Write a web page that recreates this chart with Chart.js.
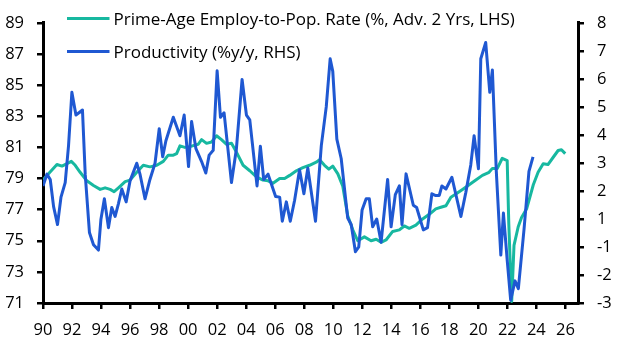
<!DOCTYPE html>
<html>
<head>
<meta charset="utf-8">
<script src="https://cdn.jsdelivr.net/npm/chart.js@4"></script>
<style>
  html, body { margin: 0; padding: 0; background: #fff; }
  #wrap { width: 629px; height: 355px; position: relative; }
</style>
</head>
<body>
<div id="wrap"><canvas id="c" width="629" height="355"></canvas></div>
<script>
// ---- Data ----
const xTickYears = [1990,1992,1994,1996,1998,2000,2002,2004,2006,2008,2010,2012,2014,2016,2018,2020,2022,2024,2026];
const xTickLabels = ['90','92','94','96','98','00','02','04','06','08','10','12','14','16','18','20','22','24','26'];
const leftTickValues = [71,73,75,77,79,81,83,85,87,89];
const rightTickValues = [-2,-1,0,1,2,3,4,5,6,7,8];
const rightTickLabels = ['-3','-2','-1','1','2','3','4','5','6','7','8'];

const seriesNames = ['Prime-Age Employ-to-Pop. Rate (%, Adv. 2 Yrs, LHS)', 'Productivity (%y/y, RHS)'];

// Prime-age employment-to-population rate, advanced 2 years (LHS)
const empYears = [
  1990.00,1990.27,1990.96,1991.31,1991.65,1991.95,1992.22,1992.56,1993.02,1993.48,
  1993.94,1994.28,1994.63,1994.90,1995.20,1995.66,1996.00,1996.46,1996.91,1997.37,
  1997.84,1998.29,1998.63,1998.98,1999.21,1999.44,1999.78,2000.12,2000.69,2000.93,
  2001.27,2001.62,2001.96,2002.30,2002.65,2002.99,2003.33,2003.79,2004.25,2004.71,
  2005.16,2005.51,2005.85,2006.31,2006.65,2007.00,2007.46,2007.91,2008.37,2008.83,
  2009.06,2009.40,2009.70,2009.97,2010.32,2010.66,2011.00,2011.35,2011.69,2012.15,
  2012.61,2012.96,2013.30,2013.64,2014.10,2014.56,2014.90,2015.24,2015.70,2016.16,
  2016.62,2017.07,2017.42,2017.77,2018.11,2018.45,2018.91,2019.37,2019.83,2020.28,
  2020.74,2020.97,2021.31,2021.65,2021.99,2022.10,2022.23,2022.30,2022.46,2022.75,
  2022.98,2023.33,2023.79,2024.12,2024.47,2024.80,2025.15,2025.50,2025.73,2025.99
];
const empValues = [
  78.9,79.2,79.9,79.8,79.95,80.1,79.85,79.4,78.85,78.55,
  78.3,78.4,78.3,78.15,78.4,78.8,78.9,79.4,79.85,79.75,
  79.85,80.1,80.5,80.5,80.6,81.1,81.0,81.05,81.2,81.5,
  81.26,81.35,81.75,81.5,81.2,81.26,80.7,79.85,79.5,79.1,
  78.9,78.85,78.7,79.0,79.0,79.2,79.5,79.7,79.85,80.05,
  80.2,79.85,79.6,79.8,79.3,78.5,76.6,75.7,75.0,75.25,
  75.0,75.1,74.9,75.05,75.6,75.7,75.95,75.8,76.0,76.4,
  76.7,77.05,77.15,77.25,77.8,78.0,78.3,78.6,78.9,79.2,
  79.4,79.65,79.65,80.3,80.15,76.1,72.8,71.1,74.7,75.9,
  76.5,77.05,78.6,79.4,79.95,79.9,80.35,80.8,80.85,80.6
];

// Productivity, %y/y (RHS, in axis units)
const prodYears = [
  1990.00,1990.27,1990.50,1990.73,1991.00,1991.24,1991.53,1991.76,1991.99,1992.27,
  1992.50,1992.72,1992.91,1993.20,1993.48,1993.82,1993.99,1994.23,1994.51,1994.74,
  1994.97,1995.20,1995.43,1995.73,1996.00,1996.46,1996.69,1997.03,1997.37,1997.72,
  1998.01,1998.25,1998.47,1998.98,1999.44,1999.73,2000.03,2000.24,2000.54,2000.93,
  2001.22,2001.45,2001.73,2002.00,2002.23,2002.48,2002.99,2003.33,2003.72,2004.02,
  2004.25,2004.75,2004.98,2005.21,2005.51,2006.03,2006.31,2006.49,2006.77,2007.04,
  2007.34,2007.68,2007.98,2008.25,2008.78,2009.18,2009.52,2009.79,2009.97,2010.25,
  2010.55,2011.00,2011.24,2011.53,2011.76,2011.99,2012.27,2012.49,2012.72,2013.00,
  2013.30,2013.75,2013.99,2014.28,2014.56,2014.74,2015.02,2015.52,2015.75,2016.21,
  2016.50,2016.80,2017.03,2017.31,2017.49,2017.77,2018.18,2018.80,2019.14,2019.48,
  2019.71,2020.01,2020.17,2020.51,2020.79,2020.97,2021.24,2021.55,2021.73,2022.00,
  2022.23,2022.53,2022.76,2023.15,2023.49,2023.77
];
const prodValues = [
  2.18,2.60,2.41,1.44,0.80,1.78,2.30,3.62,5.52,4.71,
  4.80,4.89,2.59,0.52,0.08,-0.11,0.98,1.72,0.69,1.41,
  1.09,1.55,2.07,1.61,2.36,2.99,2.59,1.72,2.41,2.99,
  4.22,3.22,3.79,4.63,3.97,4.71,2.87,4.48,3.51,3.05,
  2.64,3.28,3.45,6.29,4.63,4.79,2.30,3.51,5.98,4.71,
  4.54,2.18,3.60,2.41,2.60,1.80,1.78,0.92,1.61,0.92,
  1.67,2.76,1.90,2.82,0.92,3.62,5.00,6.72,6.27,3.85,
  3.16,1.03,0.80,-0.17,0.00,1.32,1.72,1.72,0.72,1.00,
  0.17,2.41,0.72,1.87,2.18,0.80,2.61,1.49,1.41,0.61,
  0.69,1.90,1.84,1.84,2.18,2.07,2.49,1.09,1.95,2.93,
  3.97,2.79,6.72,7.30,5.52,6.32,2.70,-0.29,1.21,-0.52,
  -1.90,-1.21,-1.49,0.63,2.70,3.22
];

const TEAL = '#17b8a0';
const BLUE = '#1f58d2';
const FONT = '"Open Sans", Lato, sans-serif';

const empData = empYears.map((x, i) => ({ x: x, y: empValues[i] }));
const prodData = prodYears.map((x, i) => ({ x: x, y: prodValues[i] }));

const legendPlugin = {
  id: 'customLegend',
  afterDraw(chart) {
    const ctx = chart.ctx;
    const rows = [
      { color: TEAL, text: seriesNames[0], y: 18.5, base: 24.5 },
      { color: BLUE, text: seriesNames[1], y: 51.5, base: 57.5 }
    ];
    ctx.save();
    rows.forEach(r => {
      ctx.strokeStyle = r.color;
      ctx.lineWidth = 3;
      ctx.lineCap = 'butt';
      ctx.beginPath();
      ctx.moveTo(67, r.y);
      ctx.lineTo(109.5, r.y);
      ctx.stroke();
      ctx.fillStyle = '#000';
      ctx.font = '17px ' + FONT;
      ctx.textBaseline = 'alphabetic';
      ctx.textAlign = 'left';
      ctx.fillText(r.text, 113.5, r.base);
    });
    ctx.restore();
  }
};

const axisCommon = {
  grid: { display: true, drawOnChartArea: false, drawTicks: true, tickLength: 6, lineWidth: 2.5, color: '#000' },
  border: { display: true, color: '#000', width: 3 },
};

new Chart(document.getElementById('c'), {
  type: 'line',
  data: {
    datasets: [
      {
        label: seriesNames[0], data: empData, yAxisID: 'yL',
        borderColor: TEAL, backgroundColor: TEAL, borderWidth: 3,
        pointRadius: 0, tension: 0, borderJoinStyle: 'round', order: 1
      },
      {
        label: seriesNames[1], data: prodData, yAxisID: 'yR',
        borderColor: BLUE, backgroundColor: BLUE, borderWidth: 3,
        pointRadius: 0, tension: 0, borderJoinStyle: 'round', order: 0
      }
    ]
  },
  options: {
    responsive: false,
    animation: false,
    devicePixelRatio: 1,
    layout: { padding: { top: 13, left: 0, right: 0, bottom: 0 } },
    plugins: { legend: { display: false }, tooltip: { enabled: false } },
    scales: {
      x: Object.assign({}, axisCommon, {
        type: 'linear', position: 'bottom', min: 1990, max: 2026.87,
        afterBuildTicks: s => { s.ticks = xTickYears.map(v => ({ value: v })); },
        afterFit: s => { s.height = 52; },
        ticks: {
          autoSkip: false, maxRotation: 0, padding: 11, color: '#000',
          font: { family: FONT, size: 16.5 },
          callback: v => xTickLabels[xTickYears.indexOf(v)]
        }
      }),
      yL: Object.assign({}, axisCommon, {
        type: 'linear', position: 'left', min: 71, max: 89,
        afterBuildTicks: s => { s.ticks = leftTickValues.map(v => ({ value: v })); },
        afterFit: s => { s.width = 43; },
        ticks: {
          padding: 13, color: '#000',
          font: { family: FONT, size: 16.5 },
          callback: v => String(v)
        }
      }),
      yR: Object.assign({}, axisCommon, {
        type: 'linear', position: 'right', min: -2, max: 8,
        afterBuildTicks: s => { s.ticks = rightTickValues.map(v => ({ value: v })); },
        afterFit: s => { s.width = 51; },
        ticks: {
          padding: 13, color: '#000',
          font: { family: FONT, size: 16.5 },
          callback: v => rightTickLabels[rightTickValues.indexOf(v)]
        }
      })
    }
  },
  plugins: [legendPlugin]
});
</script>
</body>
</html>
